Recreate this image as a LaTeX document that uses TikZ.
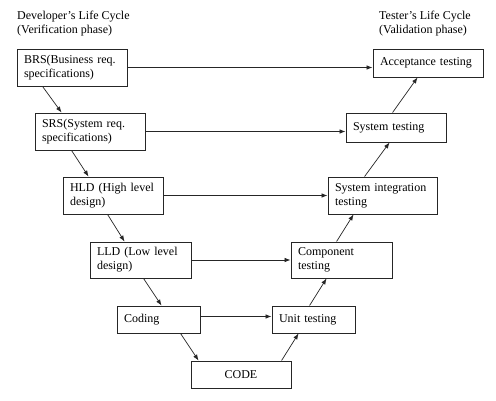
\documentclass[tikz,border=0pt]{standalone}
\usepackage{fontspec}
\setmainfont{Liberation Serif}
\usetikzlibrary{arrows.meta}
\begin{document}
\begin{tikzpicture}[x=1pt,y=-1pt,
  every node/.style={font=\fontsize{12}{14}\selectfont},
  box/.style={draw=black!85, line width=0.9pt, inner xsep=7pt, inner ysep=1pt, align=left},
  cbox/.style={draw=black!85, line width=0.9pt, inner xsep=7pt, inner ysep=1pt, align=center},
  title/.style={inner sep=0pt, anchor=north west, align=left},
  arr/.style={-{Latex[length=6pt,width=4.5pt]}, line width=0.7pt, black!85}]
\useasboundingbox (0,0) rectangle (496,401);
\fill[white] (0,0) rectangle (496,401);

\node[title] (devt) at (17,11) {Developer’s Life Cycle\\(Verification phase)};
\node[title] (test) at (379,11) {Tester’s Life Cycle\\(Validation phase)};

\node[box, text width=96pt, minimum height=37pt] (brs) at (72,67.5) {BRS(Business req.\\specifications)};
\node[box, text width=96pt, minimum height=37pt] (srs) at (90,131.5) {SRS(System req.\\specifications)};
\node[box, text width=86pt, minimum height=37pt] (hld) at (113,195.5) {HLD (High level\\design)};
\node[box, text width=87pt, minimum height=36pt] (lld) at (140.5,260) {LLD (Low level\\design)};
\node[box, text width=69pt, minimum height=27pt] (coding) at (158.5,319.5) {Coding};
\node[cbox, text width=86pt, minimum height=27pt] (code) at (241,374.5) {CODE};
\node[box, text width=96pt, minimum height=28pt] (accept) at (428,63) {Acceptance testing};
\node[box, text width=86pt, minimum height=29pt] (systest) at (396,127.5) {System testing};
\node[box, text width=95pt, minimum height=37pt] (sysint) at (382.5,195.5) {System integration\\testing};
\node[box, text width=87pt, minimum height=36pt] (comp) at (341.5,260) {Component\\testing};
\node[box, text width=69pt, minimum height=27pt] (unit) at (313.5,319.5) {Unit testing};

% down the left side
\draw[arr] ([xshift=26pt]brs.south west) -- ([xshift=27pt]srs.north west);
\draw[arr] ([xshift=37pt]srs.south west) -- ([xshift=26pt]hld.north west);
\draw[arr] ([xshift=45pt]hld.south west) -- ([xshift=35pt]lld.north west);
\draw[arr] ([xshift=54pt]lld.south west) -- ([xshift=45pt]coding.north west);
\draw[arr] ([xshift=64pt]coding.south west) -- ([xshift=8pt]code.north west);
% up the right side
\draw[arr] ([xshift=91pt]code.north west) -- ([xshift=27pt]unit.south west);
\draw[arr] ([xshift=38pt]unit.north west) -- ([xshift=36pt]comp.south west);
\draw[arr] ([xshift=46pt]comp.north west) -- ([xshift=26pt]sysint.south west);
\draw[arr] ([xshift=37pt]sysint.north west) -- ([xshift=44pt]systest.south west);
\draw[arr] ([xshift=47pt]systest.north west) -- ([xshift=45pt]accept.south west);
% across
\draw[arr] (brs.east) -- (brs.east -| accept.west);
\draw[arr] (srs.east) -- (srs.east -| systest.west);
\draw[arr] (hld.east) -- (hld.east -| sysint.west);
\draw[arr] (lld.east) -- (lld.east -| comp.west);
\draw[arr] ([yshift=3pt]coding.east) -- ([yshift=3pt]coding.east -| unit.west);
\end{tikzpicture}
\end{document}
